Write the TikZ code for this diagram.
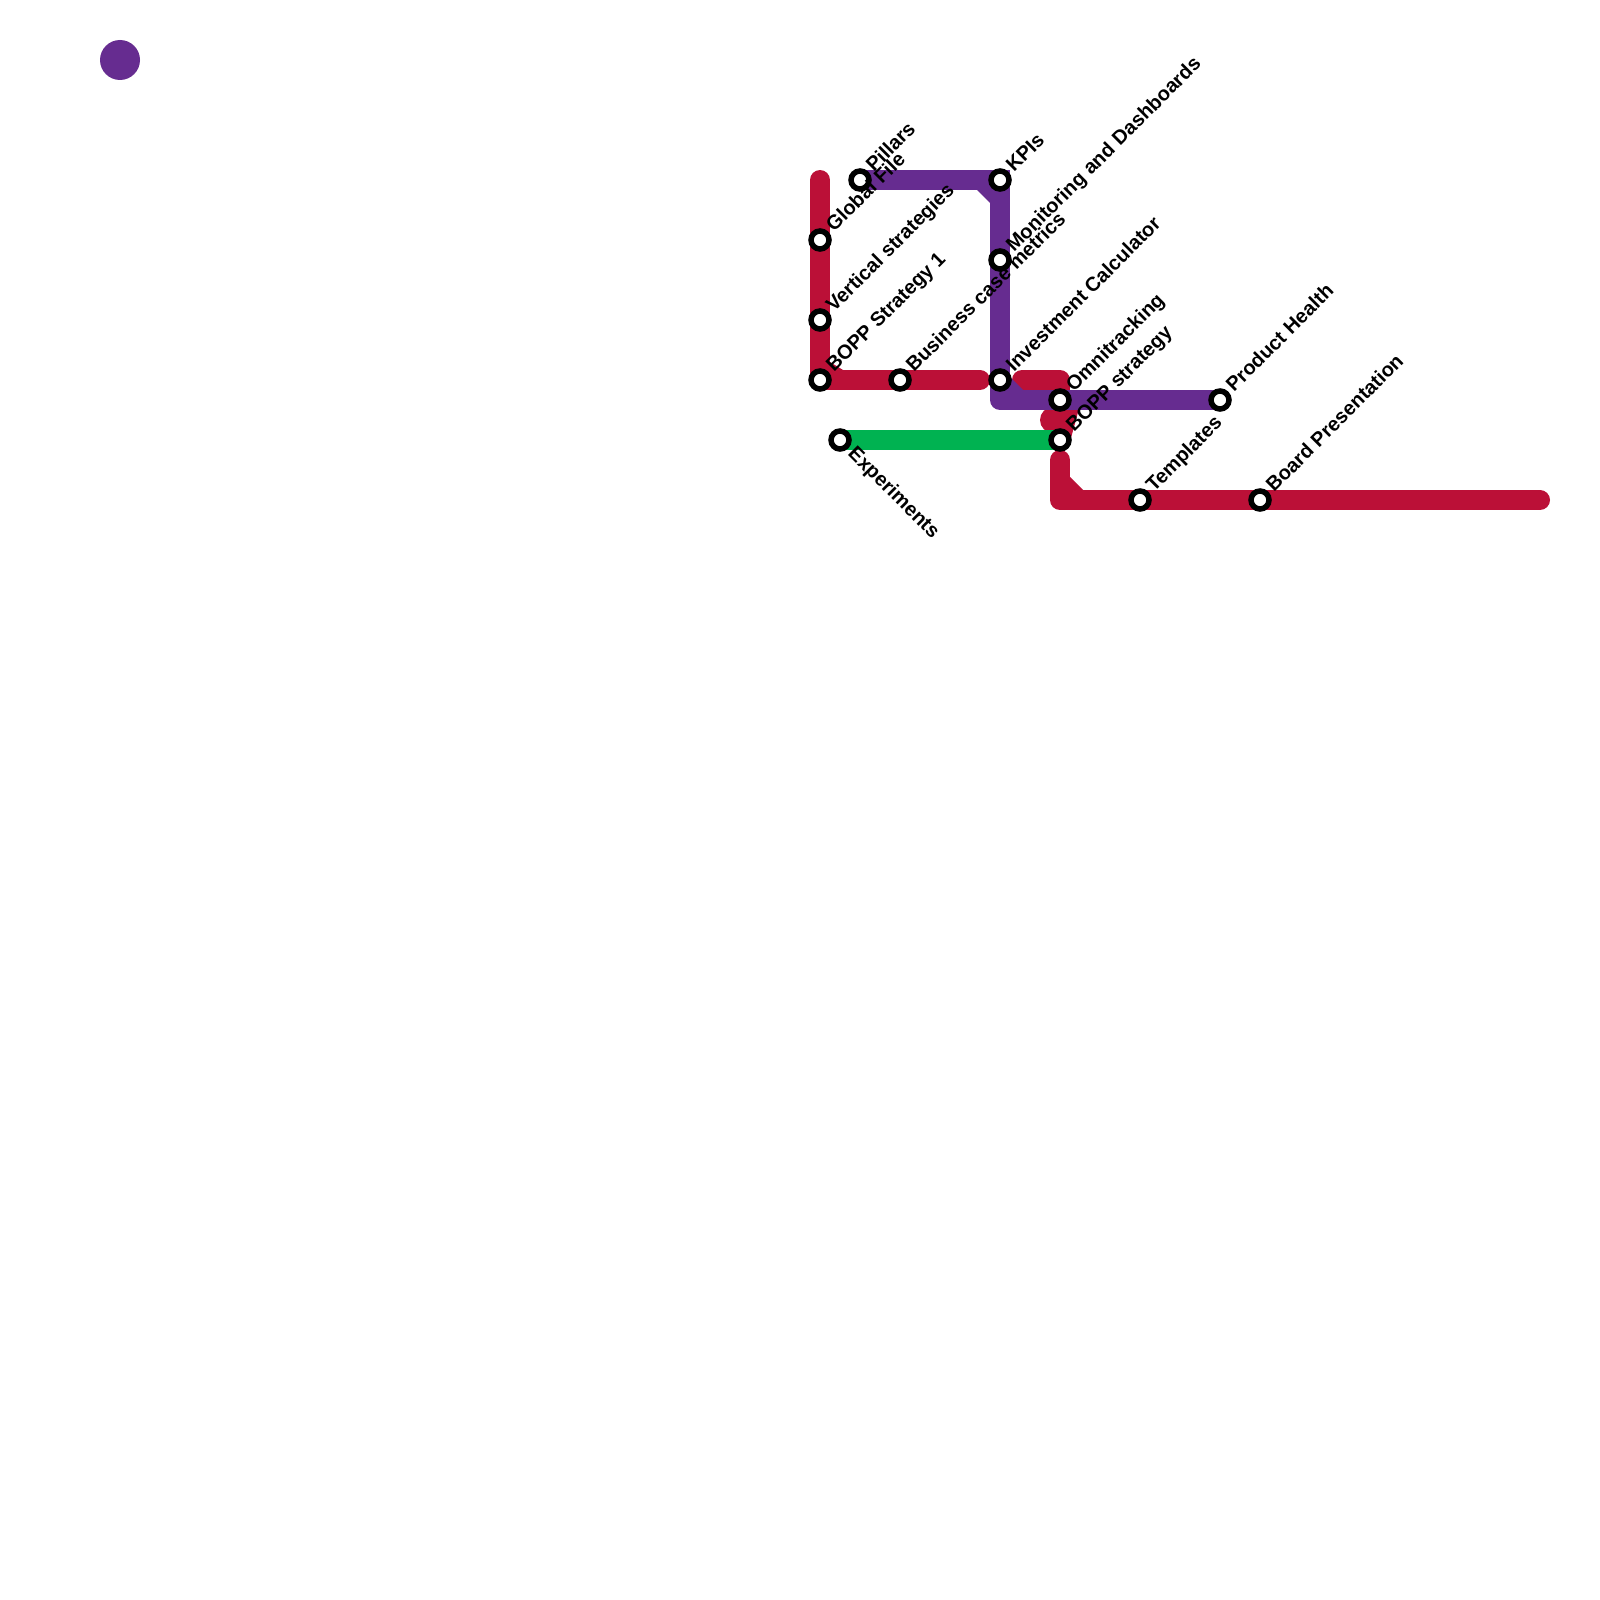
\documentclass[tikz,border=0pt]{standalone}
\usepackage{fontspec}
\usetikzlibrary{calc}
\setmainfont{Liberation Sans}
\definecolor{metroRed}{HTML}{BB1037}
\definecolor{metroPurple}{HTML}{662C90}
\definecolor{metroGreen}{HTML}{00B251}
\tikzset{
  x=1pt,y=-1pt,
  redline/.style={draw=metroRed,line width=20pt,line cap=round,line join=round},
  purpleline/.style={draw=metroPurple,line width=20pt,line cap=round,line join=round},
  greenline/.style={draw=metroGreen,line width=20pt,line cap=butt,line join=round},
  stn/.style={circle,draw=black,fill=white,line width=5.5pt,minimum size=18pt,inner sep=0pt,outer sep=0pt},
  lbl/.style={font=\bfseries\fontsize{20}{22}\selectfont,text=black,rotate=45,anchor=base west,inner sep=0pt},
  lbldown/.style={font=\bfseries\fontsize{20}{22}\selectfont,text=black,rotate=-45,anchor=base west,inner sep=0pt},
}
\begin{document}
\begin{tikzpicture}
\useasboundingbox (0,0) rectangle (1600,1600);
\fill[white] (0,0) rectangle (1600,1600);
\fill[metroPurple] (120,60) circle (20);
\coordinate (gf) at (820,240);
\coordinate (vs) at (820,320);
\coordinate (bs1) at (820,380);
\coordinate (bc) at (900,380);
\coordinate (ic) at (1000,380);
\coordinate (pil) at (860,180);
\coordinate (kpi) at (1000,180);
\coordinate (mon) at (1000,260);
\coordinate (omn) at (1060,400);
\coordinate (bst) at (1060,440);
\coordinate (exp) at (840,440);
\coordinate (ph) at (1220,400);
\coordinate (tpl) at (1140,500);
\coordinate (bp) at (1260,500);
\coordinate (r1) at (820,180);
\coordinate (r2) at (980,380);
\coordinate (r3) at (1022,380);
\coordinate (r4) at (1060,380);
\coordinate (r7) at (1060,460);
\coordinate (r8) at (1060,500);
\coordinate (r9) at (1540,500);
\coordinate (p1) at (1000,400);
\draw[redline] (r1) -- (gf) -- (vs) -- (bs1) -- (bc) -- (r2);
\fill[metroRed] (830,362) -- (830,370) -- (843,370) -- cycle;
\draw[redline] (r3) -- (r4) -- (1060,400);
\fill[metroRed] (1053,420) circle (13);
\fill[metroRed] (1050,405) -- (1080,405) -- (1071,438) -- (1060,445) -- (1050,430) -- cycle;
\draw[redline] (r7) -- (r8) -- (tpl) -- (bp) -- (r9);
\fill[metroRed] (1070,477) -- (1070,490) -- (1083,490) -- cycle;
\draw[purpleline] (pil) -- (kpi) -- (mon) -- (ic) -- (p1) -- (omn) -- (ph);
\fill[metroPurple] (977,190) -- (990,190) -- (990,203) -- cycle;
\fill[metroPurple] (1000,170) rectangle (1010,190);
\fill[metroPurple] (1010,377) -- (1010,390) -- (1023,390) -- cycle;
\draw[greenline] (exp) -- (bst);
\foreach \n/\c in {sgf/gf,svs/vs,sbs/bs1,sbc/bc,sic/ic,spil/pil,skpi/kpi,smon/mon,somn/omn,sbst/bst,sexp/exp,sph/ph,stp/tpl,sbp/bp}
  \node[stn] (\n) at (\c) {};
\foreach \n/\c/\t in {lgf/gf/Global File,lvs/vs/Vertical strategies,lbs/bs1/BOPP Strategy 1,lbc/bc/Business case metrics,lic/ic/Investment Calculator,lpil/pil/Pillars,lkpi/kpi/KPIs,lmon/mon/Monitoring and Dashboards,lomn/omn/Omnitracking,lbst/bst/BOPP strategy,lph/ph/Product Health,ltp/tpl/Templates,lbp/bp/Board Presentation}
  \node[lbl] (\n) at ($(\c)+(14,-7)$) {\t};
\node[lbldown] (lexp) at ($(exp)+(7,14.5)$) {Experiments};
\end{tikzpicture}
\end{document}
